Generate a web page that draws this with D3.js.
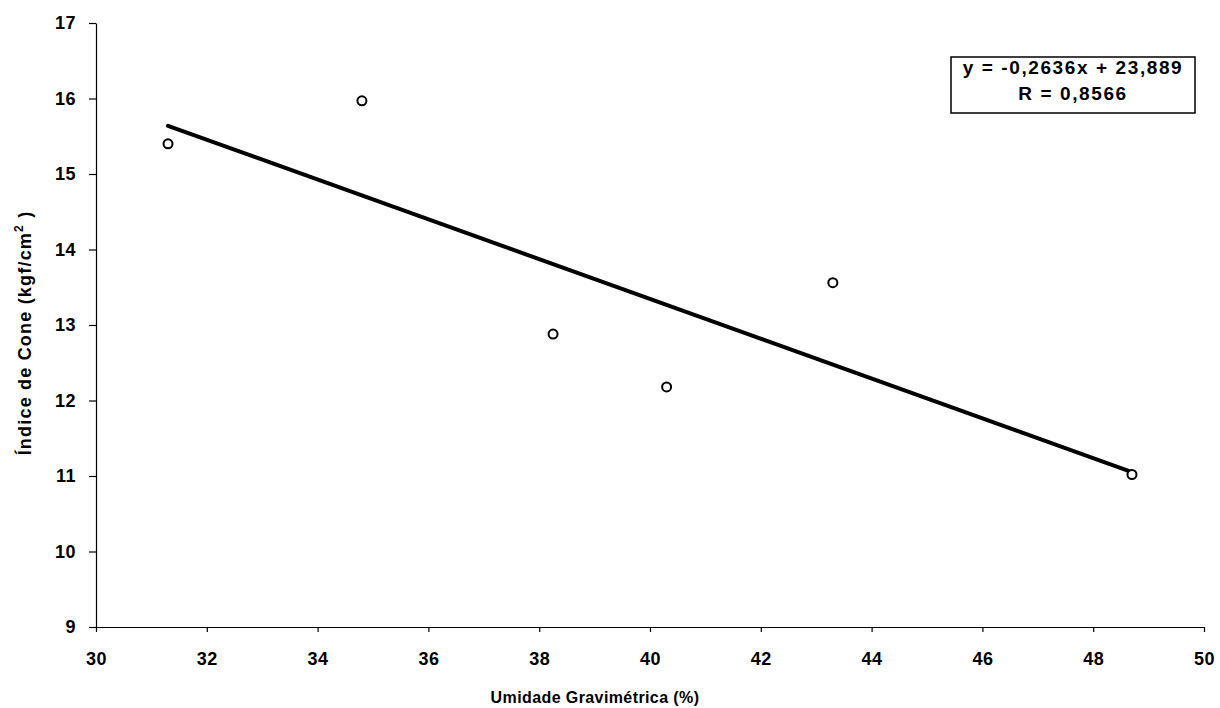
<!DOCTYPE html>
<html>
<head>
<meta charset="utf-8">
<script src="https://cdn.jsdelivr.net/npm/d3@7"></script>
<style>
  body { margin: 0; background: #fff; }
  svg text { font-family: 'Liberation Sans', Arial, sans-serif; font-weight: bold; fill: #000; }
  .axis path, .axis line { stroke: #000; stroke-width: 1.2; }
  .axis text { font-size: 18px; letter-spacing: 0.5px; }
</style>
</head>
<body>
<svg class="chart" width="1220" height="708"></svg>
<script>
// umidade gravimétrica (%) vs índice de cone (kgf/cm2)
const umidade = [31.3, 34.8, 38.25, 40.3, 43.3, 48.7]
const indiceCone = [15.4, 15.97, 12.88, 12.18, 13.56, 11.02]

const xTicks = [30, 32, 34, 36, 38, 40, 42, 44, 46, 48, 50]
const yTicks = [9, 10, 11, 12, 13, 14, 15, 16, 17]

// regression shown in the box
const slope = -0.2636
const intercept = 23.889
const eqLines = ['y = -0,2636x + 23,889', 'R = 0,8566']

const svg = d3.select('.chart')

const margin = { top: 23, right: 16, bottom: 81, left: 96 }
const width = 1220 - margin.left - margin.right
const height = 708 - margin.top - margin.bottom

const chart = svg.append('g')
  .attr('transform', `translate(${margin.left}, ${margin.top})`)

const xScale = d3.scaleLinear().domain([30, 50]).range([0, width])
const yScale = d3.scaleLinear().domain([9, 17]).range([height, 0])

chart.append('g')
  .attr('class', 'axis')
  .attr('transform', `translate(0, ${height})`)
  .call(d3.axisBottom(xScale).tickValues(xTicks).tickSize(5).tickPadding(20).tickSizeOuter(0))

chart.append('g')
  .attr('class', 'axis')
  .call(d3.axisLeft(yScale).tickValues(yTicks).tickSize(7).tickPadding(13).tickSizeOuter(0))

// trend line across the data range
const xMin = d3.min(umidade)
const xMax = d3.max(umidade)
chart.append('line')
  .attr('x1', xScale(xMin))
  .attr('y1', yScale(slope * xMin + intercept))
  .attr('x2', xScale(xMax))
  .attr('y2', yScale(slope * xMax + intercept))
  .attr('stroke', '#000')
  .attr('stroke-width', 4)
  .attr('stroke-linecap', 'round')

chart.selectAll('.pt')
  .data(umidade)
  .enter()
  .append('circle')
  .attr('class', 'pt')
  .attr('cx', d => xScale(d))
  .attr('cy', (d, i) => yScale(indiceCone[i]))
  .attr('r', 4.5)
  .attr('fill', '#fff')
  .attr('stroke', '#000')
  .attr('stroke-width', 2)

// equation box
const box = svg.append('g')
box.append('rect')
  .attr('x', 951)
  .attr('y', 57)
  .attr('width', 244)
  .attr('height', 56)
  .attr('fill', '#fff')
  .attr('stroke', '#000')
  .attr('stroke-width', 1.5)

box.selectAll('text')
  .data(eqLines)
  .enter()
  .append('text')
  .attr('x', 1073)
  .attr('y', (d, i) => 74 + i * 26)
  .attr('text-anchor', 'middle')
  .style('font-size', '19px')
  .style('letter-spacing', '1.6px')
  .text(d => d)

svg.append('text')
  .attr('x', 595)
  .attr('y', 703)
  .attr('text-anchor', 'middle')
  .style('font-size', '16px')
  .style('letter-spacing', '0.4px')
  .text('Umidade Gravimétrica (%)')

const yTitle = svg.append('text')
  .attr('transform', 'translate(31, 333) rotate(-90)')
  .attr('text-anchor', 'middle')
  .style('font-size', '18px')
  .style('letter-spacing', '1.2px')
yTitle.append('tspan').text('Índice de Cone (kgf/cm')
yTitle.append('tspan').attr('dy', -8).style('font-size', '12px').text('2')
yTitle.append('tspan').attr('dy', 8).text(' )')
</script>
</body>
</html>
